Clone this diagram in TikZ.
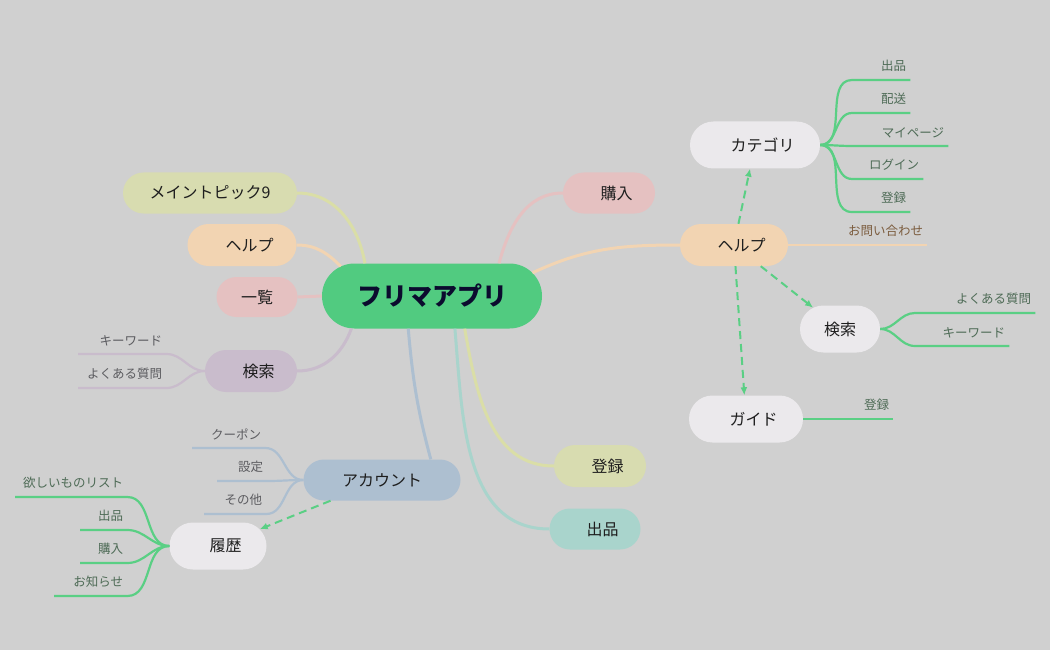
\documentclass[tikz,border=0pt]{standalone}
\usepackage{fontspec}
\setmainfont{Noto Sans CJK JP}
\usetikzlibrary{arrows.meta,positioning,shapes.misc}
\definecolor{bgc}{HTML}{D0D0D0}
\definecolor{rootgreen}{HTML}{51CB80}
\definecolor{rootink}{HTML}{0B0B2E}
\definecolor{olive}{HTML}{D8DCB0}
\definecolor{peach}{HTML}{F2D4B2}
\definecolor{rose}{HTML}{E5C1C1}
\definecolor{lilac}{HTML}{C9BCCC}
\definecolor{slate}{HTML}{ADBFD0}
\definecolor{mint}{HTML}{A9D4CC}
\definecolor{paper}{HTML}{EBE9EC}
\definecolor{twiggreen}{HTML}{5ACF84}
\definecolor{leafgreen}{HTML}{4E6B56}
\definecolor{leafgray}{HTML}{5C5C60}
\definecolor{leafbrown}{HTML}{7B5C3E}
\definecolor{topicink}{HTML}{1E1E1E}
\tikzset{
  root/.style={
    rounded rectangle,
    inner sep=0pt,
    minimum width=220pt,
    minimum height=65pt,
    fill=rootgreen,
    text=rootink,
    font=\fontsize{25pt}{30pt}\selectfont\bfseries
  },
  topic/.style={
    rounded rectangle,
    inner sep=0pt,
    minimum height=41pt,
    text=topicink,
    font=\fontsize{16pt}{19pt}\selectfont
  },
  sub/.style={
    topic,
    fill=paper,
    minimum height=47pt
  },
  pad/.style={execute at begin node=\hspace*{15pt}},
  leaf/.style={
    anchor=south west,
    inner xsep=0pt,
    inner ysep=8pt,
    minimum width=#1pt,
    text width=#1pt-8pt,
    align=right,
    font=\fontsize{12.5pt}{15pt}\selectfont
  },
  branch/.style={line width=3pt},
  twig/.style={line width=2.2pt},
  link/.style={-{Latex[length=8pt,width=7pt]}, line width=2pt,
    dash pattern=on 8pt off 5pt, draw=twiggreen}
}
\begin{document}
\begin{tikzpicture}[x=1pt,y=-1pt]
  \useasboundingbox[fill=bgc] (0,0) rectangle (1050,650);

  \node[root] (app) at (432,296) {フリマアプリ};

  % left side
  \node[topic, fill=olive, minimum width=174pt] (meta) at (210,193) {メイントピック9};
  \node[topic, pad, fill=peach, minimum width=109pt, minimum height=42pt] (helpl) at (242,245) {ヘルプ};
  \node[topic, fill=rose, minimum width=81pt, minimum height=40pt] (list) at (257,297) {一覧};
  \node[topic, pad, fill=lilac, minimum width=92pt, minimum height=42pt] (searchl) at (251,371) {検索};
  \node[topic, fill=slate, minimum width=157pt] (account) at (382,480) {アカウント};
  \node[sub, pad, minimum width=97pt] (history) at (218,546) {履歴};

  % right side
  \node[topic, pad, fill=rose, minimum width=92pt] (buy) at (609,193) {購入};
  \node[topic, pad, fill=peach, minimum width=108pt, minimum height=42pt] (helpr) at (734,245) {ヘルプ};
  \node[topic, pad, fill=olive, minimum width=92pt, minimum height=42pt] (signup) at (600,466) {登録};
  \node[topic, pad, fill=mint, minimum width=91pt] (sell) at (595,529) {出品};
  \node[sub, pad, minimum width=130pt] (category) at (755,145) {カテゴリ};
  \node[sub, minimum width=80pt] (searchr) at (840,329) {検索};
  \node[sub, pad, minimum width=114pt] (guide) at (746,419) {ガイド};

  % main branches
  \draw[branch, olive!95!yellow] (app.154) to[out=100,in=0] (meta.east);
  \draw[branch, peach] (app.162) to[out=135,in=0] (helpl.east);
  \draw[branch, rose] (app.west) -- (list.east);
  \draw[branch, lilac] (app.202) to[out=250,in=0] (searchl.east);
  \draw[branch, slate] (app.234) to[out=-85,in=105] (account.23);
  \draw[branch, olive!95!yellow] (app.315) to[out=-80,in=180] (signup.west);
  \draw[branch, mint] (app.305) to[out=-85,in=180] (sell.west);
  \draw[branch, rose] (app.26) to[out=75,in=180] (buy.west);
  \draw[branch, peach] (app.13) to[out=25,in=180] (helpr.west);

  % dashed links
  \draw[link] (helpr) -- (category);
  \draw[link] (helpr) -- (searchr);
  \draw[link] (helpr) -- (guide);
  \draw[link] (account) -- (history);

  % category leaves
  \node[leaf=58, text=leafgreen] (c1) at (852,80) {出品};
  \node[leaf=58, text=leafgreen] (c2) at (852,113) {配送};
  \node[leaf=96, text=leafgreen] (c3) at (852,146) {マイページ};
  \node[leaf=71, text=leafgreen] (c4) at (852,179) {ログイン};
  \node[leaf=58, text=leafgreen] (c5) at (852,212) {登録};
  \foreach \c in {c1,c2,c3,c4,c5}
    \draw[twig, twiggreen] (category.east) to[out=0,in=180] (\c.south west) -- (\c.south east);

  % help leaf
  \node[leaf=97, text=leafbrown] (h1) at (830,245) {お問い合わせ};
  \draw[twig, peach] (helpr.east) -- (h1.south west) -- (h1.south east);

  % search (right) leaves
  \node[leaf=120, text=leafgreen] (s1) at (915,313) {よくある質問};
  \node[leaf=94, text=leafgreen] (s2) at (915,346) {キーワード};
  \foreach \s in {s1,s2}
    \draw[twig, twiggreen] (searchr.east) to[out=0,in=180] (\s.south west) -- (\s.south east);

  % guide leaf
  \node[leaf=53, text=leafgreen] (g1) at (840,419) {登録};
  \draw[twig, twiggreen] (guide.east) -- (g1.south west) -- (g1.south east);

  % search (left) leaves
  \node[leaf=88, text=leafgray] (k1) at (78,354) {キーワード};
  \node[leaf=88, text=leafgray] (k2) at (78,388) {よくある質問};
  \foreach \k in {k1,k2}
    \draw[twig, lilac] (searchl.west) to[out=180,in=0] (\k.south east) -- (\k.south west);

  % account leaves
  \node[leaf=73, text=leafgray] (a1) at (192,448) {クーポン};
  \node[leaf=50, text=leafgray] (a2) at (217,481) {設定};
  \node[leaf=62, text=leafgray] (a3) at (204,514) {その他};
  \foreach \a in {a1,a2,a3}
    \draw[twig, slate] (account.west) to[out=180,in=0] (\a.south east) -- (\a.south west);

  % history leaves
  \node[leaf=112, text=leafgreen] (r1) at (15,497) {欲しいものリスト};
  \node[leaf=47, text=leafgreen] (r2) at (80,530) {出品};
  \node[leaf=47, text=leafgreen] (r3) at (80,563) {購入};
  \node[leaf=73, text=leafgreen] (r4) at (54,596) {お知らせ};
  \foreach \r in {r1,r2,r3,r4}
    \draw[twig, twiggreen] (history.west) to[out=180,in=0] (\r.south east) -- (\r.south west);
\end{tikzpicture}
\end{document}
